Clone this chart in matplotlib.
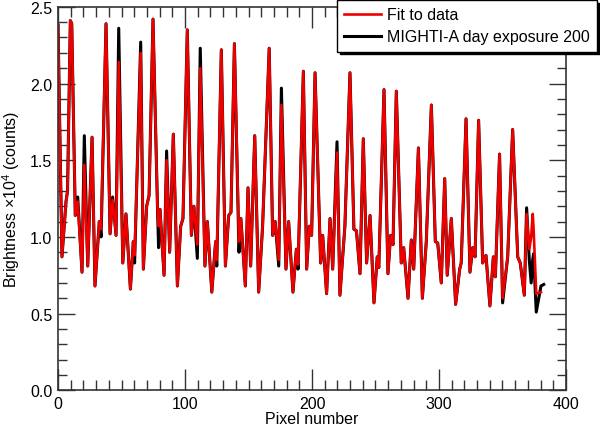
import matplotlib
matplotlib.use("Agg")
import matplotlib.pyplot as plt
import numpy as np
from matplotlib.ticker import MultipleLocator

plt.rcParams['font.family'] = ['Liberation Sans', 'DejaVu Sans']
plt.rcParams['mathtext.fontset'] = 'custom'
plt.rcParams['mathtext.rm'] = 'Liberation Sans'
plt.rcParams['mathtext.it'] = 'Liberation Sans:italic'

# pixel positions (knots)
pixel = [0, 3.1, 6.3, 7.5, 9.7, 10.8, 13.6, 15.5, 18.9, 20.7, 23.4, 26.8, 29.1, 32.5, 33.9,
         37.8, 41, 43, 45.7, 47.8, 51, 53.5, 57, 59.3, 60.3, 65.1, 67.2, 69.8, 71.7, 74.8,
         78.3, 79.2, 80.3, 83.5, 85.5, 87.9, 90.8, 94, 96.6, 98.4, 101.8, 105, 107, 109.7,
         112, 115.7, 117.6, 121.1, 124.1, 125, 128.6, 131.8, 134.4, 136.2, 138.9, 142.5,
         144, 147.5, 149.6, 151.7, 154.9, 158, 161.1, 166.3, 169, 171, 173.8, 175.9, 179.5,
         181.6, 185, 187.7, 189, 193.2, 195.8, 197.9, 199.7, 202.4, 206.8, 208.4, 211.5,
         214.2, 216.3, 219.7, 222, 225.9, 229.9, 233, 235, 237.8, 240.4, 243, 245.7, 248.8,
         251.4, 252.6, 256.7, 259.8, 261.9, 263.8, 266.4, 270.3, 272.2, 275.6, 278.2, 280.1,
         283.8, 286.9, 290, 294, 297.1, 299, 301.8, 304.5, 306.5, 309.7, 313.1, 316.3, 317.5,
         321.3, 324.4, 326.5, 328.4, 331.2, 334.4, 337, 340.1, 342.8, 344.4, 347.7, 350.1,
         354.1, 358, 362, 364, 367.2, 369, 371.1, 372.6, 373.8, 374.5, 376.6, 380.3, 382.5]

# MIGHTI-A day exposure 200 (x10^4 counts)
data = [2.38, 0.87, 1.23, 1.30, 2.41, 2.39, 1.14, 1.26, 0.77, 1.66, 0.81, 1.65, 0.68, 1.10, 1.00,
        2.39, 1.02, 1.26, 1.01, 2.36, 0.83, 1.15, 0.66, 0.97, 0.83, 2.27, 0.79, 1.20, 1.27, 2.42,
        1.20, 0.93, 1.18, 0.75, 1.56, 0.90, 1.67, 0.68, 1.07, 1.12, 2.35, 1.01, 1.20, 0.86,
        2.23, 0.81, 1.10, 0.64, 0.97, 0.81, 2.22, 0.81, 1.14, 1.16, 2.26, 0.90,
        1.12, 0.68, 1.32, 0.81, 1.66, 0.64, 1.07, 2.23, 1.01, 1.10, 0.81, 1.97, 0.79,
        1.10, 0.64, 0.92, 0.79, 2.08, 0.79, 1.07, 1.01, 2.07, 0.83, 1.01, 0.63,
        1.12, 0.79, 1.62, 0.62, 1.07, 2.07, 1.05, 1.04, 0.76, 1.64, 0.83, 1.14, 0.57,
        0.87, 0.80, 1.96, 0.76, 1.01, 0.95, 1.95, 0.83, 0.93, 0.60, 0.98, 0.79,
        1.58, 0.60, 0.97, 1.86, 0.97, 0.96, 0.70, 1.38, 0.75, 1.12, 0.56, 0.79, 0.83,
        1.77, 0.77, 0.93, 0.87, 1.76, 0.83, 0.88, 0.55, 0.87, 0.74, 1.54, 0.57,
        0.87, 1.70, 0.87, 0.83, 0.62, 1.19, 0.85, 0.70, 0.85, 0.89, 0.51, 0.68, 0.69]

# Fit to data
fit = [2.38, 0.87, 1.23, 1.30, 2.41, 2.39, 1.14, 1.23, 0.77, 1.47, 0.81, 1.65, 0.68, 1.10, 1.05,
       2.39, 1.02, 1.24, 1.01, 2.14, 0.83, 1.15, 0.66, 0.97, 0.88, 2.20, 0.79, 1.20, 1.27, 2.42,
       1.20, 1.07, 1.18, 0.75, 1.50, 0.90, 1.67, 0.68, 1.07, 1.12, 2.35, 1.01, 1.20, 0.95,
       2.10, 0.81, 1.10, 0.64, 0.97, 0.85, 2.22, 0.81, 1.14, 1.16, 2.26, 0.97,
       1.12, 0.68, 1.32, 0.81, 1.66, 0.64, 1.07, 2.23, 1.01, 1.10, 0.85, 1.86, 0.79,
       1.10, 0.64, 0.92, 0.82, 2.08, 0.79, 1.07, 1.01, 2.07, 0.83, 1.01, 0.63,
       1.12, 0.79, 1.55, 0.62, 1.07, 2.07, 1.05, 1.04, 0.76, 1.64, 0.83, 1.14, 0.57,
       0.87, 0.80, 1.96, 0.76, 1.01, 0.95, 1.95, 0.83, 0.93, 0.60, 0.98, 0.79,
       1.58, 0.60, 0.97, 1.86, 0.97, 0.96, 0.70, 1.38, 0.75, 1.12, 0.56, 0.79, 0.83,
       1.77, 0.77, 0.93, 0.87, 1.76, 0.83, 0.88, 0.55, 0.87, 0.74, 1.54, 0.60,
       0.87, 1.70, 0.87, 0.83, 0.62, 1.15, 0.92, 1.00, 1.15, 1.05, 0.63, 0.64, np.nan]

fig = plt.figure(figsize=(6.0, 4.27), dpi=100)
ax = fig.add_axes([0.0967, 0.0836, 0.8466, 0.8981])

l_data, = ax.plot(pixel, data, color='black', lw=2.2, solid_joinstyle='round')
l_fit, = ax.plot(pixel, fit, color='#ee0000', lw=1.9, solid_joinstyle='round')

ax.set_xlim(0, 400)
ax.set_ylim(0, 2.5)
ax.xaxis.set_major_locator(MultipleLocator(100))
ax.xaxis.set_minor_locator(MultipleLocator(10))
ax.yaxis.set_major_locator(MultipleLocator(0.5))
ax.yaxis.set_minor_locator(MultipleLocator(0.1))
ax.yaxis.set_major_formatter(matplotlib.ticker.FormatStrFormatter('%.1f'))

fs = 11.5
ax.tick_params(axis='both', which='both', direction='in', top=True, right=True,
               labelsize=fs, color='#333333', width=1.0)
ax.tick_params(axis='x', which='major', length=15, pad=4)
ax.tick_params(axis='x', which='minor', length=7)
ax.tick_params(axis='y', which='major', length=12.5, pad=4)
ax.tick_params(axis='y', which='minor', length=6.2)
for s in ax.spines.values():
    s.set_color('#333333')
    s.set_linewidth(1.2)

ax.set_xlabel('Pixel number', fontsize=fs, labelpad=0)
ax.set_ylabel(r'Brightness $\times$10$^{4}$ (counts)', fontsize=fs, labelpad=6)

leg = ax.legend([l_fit, l_data], ['Fit to data', 'MIGHTI-A day exposure 200'],
                loc='upper right', bbox_to_anchor=(597 / 600, 1.0 - 1 / 427),
                bbox_transform=fig.transFigure, fontsize=fs, frameon=True,
                fancybox=False, shadow={'color': 'black', 'alpha': 1.0},
                edgecolor='black', framealpha=1.0, handlelength=2.3,
                handletextpad=0.4, borderpad=0.45, labelspacing=0.45,
                borderaxespad=0.0)
leg.get_frame().set_linewidth(1.0)
leg.set_clip_on(False)

fig.savefig('out.png', dpi=100)
